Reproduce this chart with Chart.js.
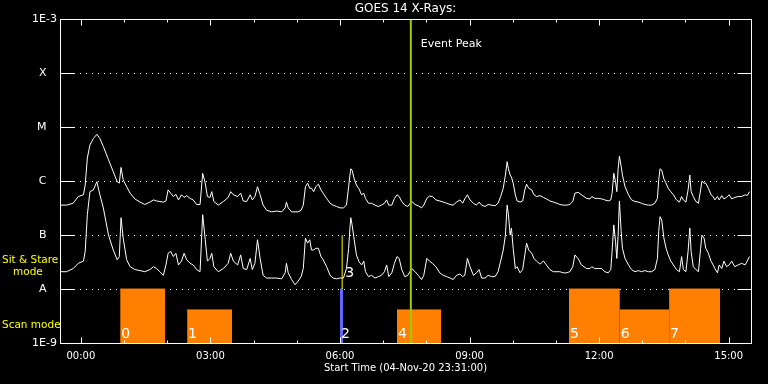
<!DOCTYPE html>
<html><head><meta charset="utf-8">
<script src="https://cdn.jsdelivr.net/npm/chart.js@4"></script>
<style>html,body{margin:0;padding:0;background:#000;overflow:hidden}canvas{display:block}</style>
</head><body>
<canvas id="c" width="768" height="384"></canvas>
<script>
// ---- data (hours relative to 05-Nov-20 00:00 UT) ----
const times = [
 -0.48,-0.33,-0.18,-0.06,0.06,0.10,0.15,0.21,0.29,0.37,0.44,0.52,0.64,0.75,0.84,0.89,0.93,0.98,1.06,1.14,
 1.25,1.37,1.48,1.60,1.68,1.75,1.83,1.91,1.97,2.02,2.08,2.14,2.20,2.26,2.33,2.39,2.45,2.53,2.60,2.68,
 2.76,2.82,2.88,2.93,2.99,3.03,3.08,3.18,3.30,3.41,3.47,3.53,
 3.63,3.70,3.76,3.84,3.92,3.97,4.03,4.09,4.15,4.22,4.30,4.42,4.53,4.65,4.73,4.76,4.80,4.88,4.96,5.03,
 5.10,5.15,5.20,5.25,5.30,5.34,5.39,5.44,5.50,5.56,5.61,5.69,5.77,5.84,5.92,6.00,6.08,6.15,6.20,6.23,
 6.25,6.28,6.33,6.38,6.44,6.50,6.55,6.59,6.66,6.73,6.81,6.89,6.96,7.03,7.08,7.13,7.20,7.26,7.32,7.37,
 7.43,7.50,7.57,
 7.66,7.74,7.81,7.89,7.94,8.01,8.07,8.14,8.22,8.31,8.39,8.47,8.55,8.62,8.70,8.78,8.84,8.89,8.95,9.01,
 9.09,9.16,9.22,9.28,9.36,9.43,9.51,9.59,9.66,9.72,9.78,9.83,9.87,9.90,9.94,9.97,10.01,10.06,10.10,10.17,
 10.23,10.28,10.32,10.37,10.44,10.49,10.55,10.63,10.71,10.78,10.86,10.94,11.02,11.09,11.17,11.25,11.32,11.39,11.44,11.52,
 11.59,
 11.71,11.79,11.83,11.90,11.98,12.06,12.13,12.21,12.27,12.30,12.34,12.38,12.41,12.44,12.47,12.51,12.54,12.60,12.68,12.75,
 12.83,12.91,12.98,13.06,13.14,13.22,13.29,13.35,13.38,13.41,13.45,13.50,13.55,13.60,13.66,13.72,13.79,13.86,13.91,13.95,
 14.01,14.06,14.10,14.13,14.18,14.24,14.30,14.35,14.38,14.43,14.47,14.53,14.59,14.64,14.68,14.74,14.78,14.84,14.89,14.95,
 15.01,15.07,15.14,15.22,15.30,15.38,15.43,15.48
];
// 1-8 A channel (upper curve), W/m^2
const fluxLong = [
 3.6e-7,3.6e-7,3.9e-7,5.2e-7,5.6e-7,8.5e-7,2.7e-6,4.7e-6,6.2e-6,7.4e-6,6.2e-6,4.4e-6,2.5e-6,1.5e-6,9.8e-7,9.2e-7,1.8e-6,1.06e-6,7.9e-7,6.0e-7,
 4.7e-7,4.1e-7,3.7e-7,4.1e-7,4.5e-7,4.3e-7,4.2e-7,4.1e-7,4.3e-7,6.9e-7,6.0e-7,5.2e-7,5.7e-7,4.5e-7,5.6e-7,5.0e-7,5.4e-7,4.8e-7,4.5e-7,3.7e-7,
 3.7e-7,1.4e-6,9.2e-7,5.2e-7,5.0e-7,6.4e-7,4.2e-7,3.6e-7,4.2e-7,5.0e-7,6.4e-7,5.6e-7,
 5.2e-7,6.0e-7,4.3e-7,4.2e-7,5.6e-7,4.5e-7,5.2e-7,7.9e-7,5.6e-7,3.6e-7,2.9e-7,2.7e-7,2.8e-7,2.7e-7,3.2e-7,4.1e-7,3.2e-7,2.7e-7,2.7e-7,2.7e-7,
 2.9e-7,3.6e-7,7.9e-7,9.2e-7,7.4e-7,7.4e-7,6.4e-7,7.9e-7,8.8e-7,6.9e-7,6.0e-7,4.8e-7,3.9e-7,3.6e-7,3.4e-7,3.2e-7,3.2e-7,3.6e-7,7.9e-7,1.3e-6,
 1.7e-6,1.6e-6,1.1e-6,8.5e-7,7.2e-7,5.6e-7,6.0e-7,4.8e-7,3.9e-7,3.9e-7,3.6e-7,3.4e-7,3.6e-7,3.9e-7,4.5e-7,3.6e-7,3.6e-7,4.8e-7,5.6e-7,5.2e-7,
 4.2e-7,3.6e-7,3.4e-7,
 4.2e-7,3.7e-7,3.5e-7,3.2e-7,3.6e-7,4.8e-7,5.3e-7,5.2e-7,4.5e-7,4.3e-7,4.1e-7,3.9e-7,3.7e-7,3.6e-7,4.1e-7,4.5e-7,3.9e-7,4.7e-7,5.6e-7,4.5e-7,
 3.9e-7,3.6e-7,4.1e-7,3.6e-7,3.4e-7,3.7e-7,3.6e-7,3.5e-7,3.9e-7,5.2e-7,7.4e-7,1.3e-6,2.3e-6,1.7e-6,1.3e-6,1.2e-6,9.2e-7,5.6e-7,4.3e-7,4.1e-7,
 4.3e-7,6.9e-7,8.8e-7,7.4e-7,6.9e-7,5.6e-7,5.2e-7,5.4e-7,5.0e-7,4.7e-7,4.3e-7,4.1e-7,3.9e-7,3.7e-7,3.6e-7,3.6e-7,3.7e-7,4.2e-7,6.0e-7,6.2e-7,
 5.6e-7,
 4.8e-7,4.7e-7,5.2e-7,4.8e-7,4.8e-7,4.7e-7,4.5e-7,4.3e-7,4.5e-7,6.0e-7,1.4e-6,9.8e-7,6.4e-7,1.7e-6,2.9e-6,1.9e-6,1.3e-6,7.9e-7,5.6e-7,4.5e-7,
 4.2e-7,4.1e-7,3.9e-7,3.7e-7,3.6e-7,3.6e-7,3.9e-7,4.8e-7,1.06e-6,1.7e-6,1.6e-6,1.1e-6,9.2e-7,7.4e-7,6.4e-7,5.6e-7,4.5e-7,4.1e-7,5.2e-7,4.5e-7,
 4.1e-7,6.9e-7,1.3e-6,6.4e-7,5.2e-7,4.2e-7,3.9e-7,6.9e-7,1.0e-6,9.2e-7,9.2e-7,7.4e-7,5.6e-7,5.2e-7,4.5e-7,5.2e-7,4.5e-7,5.4e-7,4.7e-7,5.0e-7,
 5.6e-7,4.7e-7,5.0e-7,5.2e-7,5.2e-7,5.6e-7,5.4e-7,6.4e-7
];
// 0.5-4 A channel (lower curve), W/m^2
const fluxShort = [
 2.1e-8,2.1e-8,2.4e-8,3.0e-8,3.3e-8,5.0e-8,2.4e-7,6.4e-7,6.9e-7,9.8e-7,5.6e-7,3.2e-7,1.0e-7,5.3e-8,3.5e-8,4.0e-8,2.1e-7,8.8e-8,3.5e-8,2.6e-8,
 2.3e-8,2.2e-8,2.1e-8,2.3e-8,2.6e-8,2.4e-8,2.1e-8,1.8e-8,2.8e-8,4.6e-8,5.0e-8,4.0e-8,4.6e-8,2.8e-8,3.3e-8,4.6e-8,3.5e-8,3.0e-8,2.8e-8,2.3e-8,
 2.1e-8,2.4e-7,8.2e-8,3.3e-8,3.7e-8,4.6e-8,2.6e-8,2.1e-8,2.4e-8,3.0e-8,4.6e-8,3.3e-8,
 2.8e-8,4.3e-8,2.4e-8,2.3e-8,3.7e-8,2.3e-8,3.0e-8,8.2e-8,3.7e-8,1.8e-8,1.6e-8,1.6e-8,1.6e-8,1.55e-8,2.0e-8,3.0e-8,2.0e-8,1.5e-8,1.2e-8,1.4e-8,
 1.7e-8,2.4e-8,8.8e-8,7.1e-8,8.2e-8,5.3e-8,5.3e-8,5.7e-8,5.7e-8,4.0e-8,3.5e-8,2.6e-8,1.8e-8,1.6e-8,1.55e-8,1.6e-8,1.6e-8,2.4e-8,5.7e-8,1.35e-7,
 2.1e-7,1.55e-7,8.2e-8,4.3e-8,3.2e-8,2.8e-8,3.3e-8,2.1e-8,1.7e-8,1.8e-8,1.6e-8,1.7e-8,1.8e-8,2.1e-8,2.8e-8,1.7e-8,2.0e-8,3.0e-8,4.0e-8,3.7e-8,
 2.3e-8,1.7e-8,1.8e-8,
 2.4e-8,2.1e-8,1.8e-8,1.5e-8,1.8e-8,3.7e-8,3.3e-8,3.0e-8,2.6e-8,2.0e-8,1.8e-8,1.7e-8,1.6e-8,1.5e-8,1.8e-8,1.9e-8,1.7e-8,1.8e-8,3.7e-8,2.6e-8,
 1.8e-8,2.0e-8,2.3e-8,1.6e-8,1.6e-8,1.8e-8,1.7e-8,1.7e-8,2.1e-8,3.3e-8,5.3e-8,1.0e-7,3.6e-7,2.4e-7,1.0e-7,1.35e-7,5.7e-8,2.4e-8,2.6e-8,2.0e-8,
 2.3e-8,4.3e-8,7.1e-8,5.3e-8,4.6e-8,3.7e-8,3.3e-8,2.9e-8,3.3e-8,2.8e-8,2.3e-8,2.1e-8,2.1e-8,2.1e-8,2.0e-8,2.0e-8,2.1e-8,2.6e-8,4.3e-8,3.6e-8,
 2.8e-8,
 2.4e-8,2.4e-8,2.6e-8,2.4e-8,2.4e-8,2.4e-8,2.1e-8,2.0e-8,2.3e-8,5.0e-8,1.55e-7,7.6e-8,3.7e-8,1.0e-7,4.3e-7,1.17e-7,5.7e-8,3.7e-8,2.8e-8,2.3e-8,
 2.1e-8,2.2e-8,2.1e-8,2.2e-8,2.1e-8,2.1e-8,2.3e-8,3.7e-8,1.17e-7,2.2e-7,1.9e-7,8.8e-8,5.7e-8,4.3e-8,3.3e-8,2.8e-8,2.3e-8,2.1e-8,4.0e-8,2.3e-8,
 2.1e-8,5.0e-8,1.35e-7,5.0e-8,2.6e-8,2.3e-8,2.1e-8,5.7e-8,1.0e-7,8.8e-8,5.7e-8,4.6e-8,3.3e-8,2.8e-8,2.4e-8,2.0e-8,2.8e-8,2.4e-8,3.3e-8,2.6e-8,
 2.8e-8,3.3e-8,2.6e-8,2.8e-8,3.0e-8,2.8e-8,3.3e-8,4.0e-8
];
// observing modes (hours), bar top level in W/m^2 (1E-8 = sit & stare, lower = scan)
const modeStart = [0.91, 2.46, 6.00, 7.32, 11.30, 12.48, 13.62];
const modeEnd   = [1.95, 3.50, 6.07, 8.34, 12.48, 13.62, 14.80];
const modeTop   = [1e-8, 4.1e-9, 1e-8, 4.1e-9, 1e-8, 4.1e-9, 1e-8];
const modeLabel = ['0', '1', '2', '4', '5', '6', '7'];
const markerTime = 6.05, markerLow = 1e-8, markerHigh = 1e-7, markerLabel = '3';
const eventPeakTime = 7.64;
const xMin = -0.4833, xMax = 15.5167;          // 23:31 -> 15:31
const yTickValues = [1e-9, 1e-8, 1e-7, 1e-6, 1e-5, 1e-4, 1e-3];
const yTickLabels = ['1E-9', 'A', 'B', 'C', 'M', 'X', '1E-3'];
const xLabelHours = [0, 3, 6, 9, 12, 15];
const xMinorHours = [0,1,2,3,4,5,6,7,8,9,10,11,12,13,14,15];

// ---- styles ----
const FONT = 'DejaVu Sans';
const ORANGE = '#ff8000', BLUE = '#6464ff', YELLOW = '#ffff00', GREEN = '#9ccc00', WHITE = '#ffffff';
Chart.defaults.font.family = FONT;

const datasets = [];
datasets.push({ label: 'Event Peak', data: [{x: eventPeakTime, y: 1e-9}, {x: eventPeakTime, y: 1e-3}],
  borderColor: GREEN, borderWidth: 2, pointRadius: 0, fill: false });
datasets.push({ label: 'marker', data: [{x: markerTime, y: markerLow}, {x: markerTime, y: markerHigh}],
  borderColor: YELLOW, borderWidth: 1, pointRadius: 0, fill: false });
datasets.push({ label: 'GOES 1-8 A', data: times.map((t, i) => ({x: t, y: fluxLong[i]})),
  borderColor: WHITE, borderWidth: 1, pointRadius: 0, fill: false, tension: 0 });
datasets.push({ label: 'GOES 0.5-4 A', data: times.map((t, i) => ({x: t, y: fluxShort[i]})),
  borderColor: WHITE, borderWidth: 1, pointRadius: 0, fill: false, tension: 0 });
modeStart.forEach((s, i) => {
  const col = modeLabel[i] === '2' ? BLUE : ORANGE;
  datasets.push({ label: 'mode ' + modeLabel[i], data: [{x: s, y: modeTop[i]}, {x: modeEnd[i], y: modeTop[i]}],
    borderColor: col, backgroundColor: col, borderWidth: 1, pointRadius: 0, fill: 'start' });
});

const pixAlign = v => Math.round(v) + 0.5;

const framePlugin = {
  id: 'goesFrame',
  beforeDraw(chart) {
    const c = chart.ctx;
    c.save(); c.fillStyle = '#000'; c.fillRect(0, 0, chart.width, chart.height); c.restore();
  },
  beforeDatasetsDraw(chart) {
    const c = chart.ctx, a = chart.chartArea, ys = chart.scales.y;
    c.save();
    c.strokeStyle = WHITE; c.lineWidth = 1; c.setLineDash([1, 5]);
    yTickValues.slice(1, -1).forEach(v => {
      const y = pixAlign(ys.getPixelForValue(v));
      c.beginPath(); c.moveTo(a.left + 14, y); c.lineTo(a.right - 14, y); c.stroke();
    });
    c.restore();
  },
  afterDatasetsDraw(chart) {
    const c = chart.ctx, a = chart.chartArea, xs = chart.scales.x, ys = chart.scales.y;
    const L = pixAlign(a.left), R = pixAlign(a.right), T = pixAlign(a.top), B = pixAlign(a.bottom);
    c.save();
    c.strokeStyle = WHITE; c.lineWidth = 1;
    c.strokeRect(L, T, R - L, B - T);
    c.beginPath();
    yTickValues.slice(1, -1).forEach(v => {
      const y = pixAlign(ys.getPixelForValue(v));
      c.moveTo(L, y); c.lineTo(L + 14, y);
      c.moveTo(R, y); c.lineTo(R - 14, y);
    });
    xMinorHours.forEach(h => {
      const x = pixAlign(xs.getPixelForValue(h));
      const len = xLabelHours.includes(h) ? 6 : 3;
      c.moveTo(x, T); c.lineTo(x, T + len);
      c.moveTo(x, B); c.lineTo(x, B - len);
    });
    c.stroke();
    c.restore();
  },
  afterDraw(chart) {
    const c = chart.ctx, a = chart.chartArea, xs = chart.scales.x, ys = chart.scales.y;
    c.save();
    c.textBaseline = 'alphabetic'; c.textAlign = 'left';
    // mode labels
    c.fillStyle = YELLOW; c.font = '10.5px ' + FONT;
    c.fillText('Sit & Stare', 2, 263);
    c.fillText('mode', 13, 275);
    c.fillText('Scan mode', 2, 328);
    // event peak
    c.fillStyle = WHITE; c.font = '11px ' + FONT;
    c.fillText('Event Peak', xs.getPixelForValue(eventPeakTime) + 10, 47);
    // observation numbers
    c.font = '14px ' + FONT;
    modeStart.forEach((s, i) => {
      c.fillText(modeLabel[i], xs.getPixelForValue(s) + 1, a.bottom - 5);
    });
    c.fillText(markerLabel, xs.getPixelForValue(markerTime) + 3, ys.getPixelForValue(markerLow) - 12);
    c.restore();
  }
};

new Chart(document.getElementById('c'), {
  type: 'line',
  data: { datasets },
  options: {
    responsive: false, animation: false, devicePixelRatio: 1,
    layout: { padding: { right: 17 } },
    plugins: {
      legend: { display: false }, tooltip: { enabled: false },
      title: { display: true, text: 'GOES 14 X-Rays:', color: WHITE, fullSize: false,
        font: { size: 12, weight: 'normal', family: FONT }, padding: { top: 2, bottom: 3 } }
    },
    scales: {
      x: {
        type: 'linear', min: xMin, max: xMax, position: 'bottom',
        afterBuildTicks: s => { s.ticks = xLabelHours.map(v => ({ value: v })); },
        afterFit: s => { s.height = 41; },
        grid: { display: false, drawTicks: false }, border: { display: false },
        ticks: { color: WHITE, font: { size: 10 }, padding: 7, maxRotation: 0, autoSkip: false,
          callback: v => String(((v % 24) + 24) % 24).padStart(2, '0') + ':00' },
        title: { display: true, text: 'Start Time (04-Nov-20 23:31:00)', color: WHITE,
          font: { size: 10 }, padding: { top: 10, bottom: 10 } }
      },
      y: {
        type: 'logarithmic', min: 1e-9, max: 1e-3, position: 'left',
        afterBuildTicks: s => { s.ticks = yTickValues.map(v => ({ value: v })); },
        afterFit: s => { s.width = 60; },
        grid: { display: false, drawTicks: false }, border: { display: false },
        ticks: { color: WHITE, font: { size: 11 }, padding: 3, autoSkip: false,
          callback: v => {
            const i = yTickValues.findIndex(t => Math.abs(Math.log10(t) - Math.log10(v)) < 1e-6);
            if (i < 0) return '';
            const lab = yTickLabels[i];
            return lab.length === 1 ? lab + '   ' : lab;
          } }
      }
    }
  },
  plugins: [framePlugin]
});
</script>
</body></html>
